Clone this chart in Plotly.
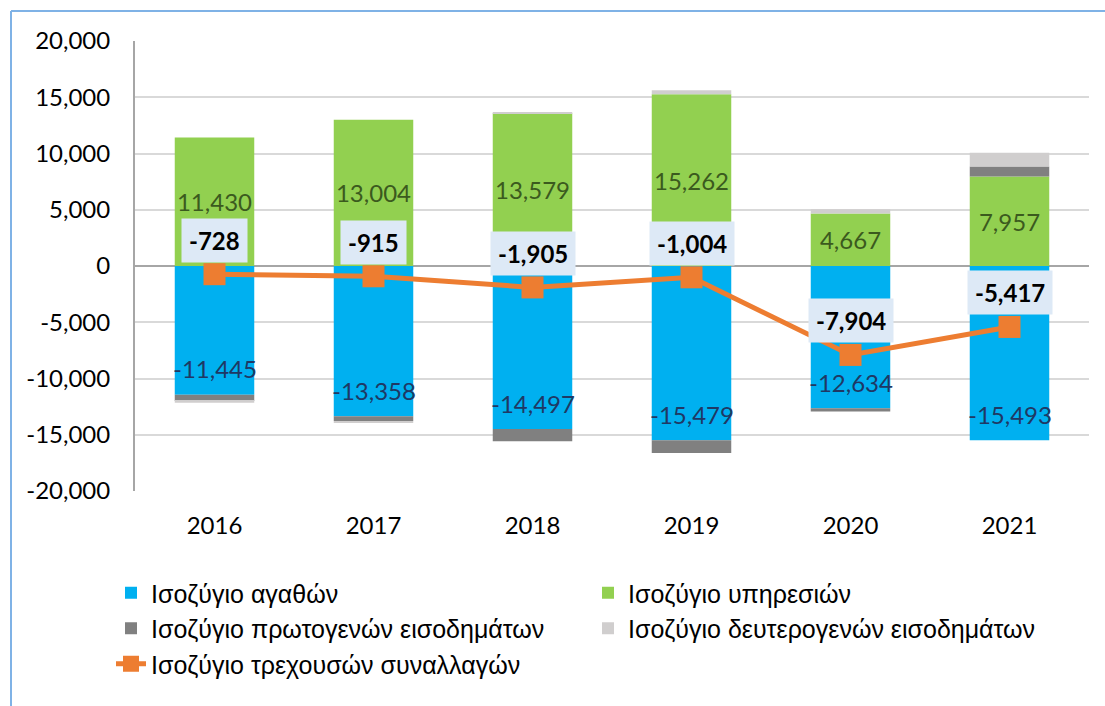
import plotly.graph_objects as go

years = ["2016", "2017", "2018", "2019", "2020", "2021"]
goods = [-11445, -13358, -14497, -15479, -12634, -15493]
services = [11430, 13004, 13579, 15262, 4667, 7957]
primary = [-550, -430, -1090, -1150, -310, 895]
secondary = [-163, -131, 103, 363, 373, 1224]
current = [-728, -915, -1905, -1004, -7904, -5417]

names = ["Ισοζύγιο αγαθών", "Ισοζύγιο υπηρεσιών",
         "Ισοζύγιο πρωτογενών εισοδημάτων", "Ισοζύγιο δευτερογενών εισοδημάτων",
         "Ισοζύγιο τρεχουσών συναλλαγών"]
yticks = [-20000, -15000, -10000, -5000, 0, 5000, 10000, 15000, 20000]

NUMFONT = "Lato, Open Sans, sans-serif"
LEGFONT = "Liberation Sans, Arial, sans-serif"

def fmt(v):
    return f"{v:,}"

fig = go.Figure()
fig.add_trace(go.Bar(x=years, y=goods, name=names[0], marker=dict(color="#00b0f0", line=dict(width=0))))
fig.add_trace(go.Bar(x=years, y=services, name=names[1], marker=dict(color="#92d050", line=dict(width=0)),
                     text=[fmt(v) for v in services], textposition="inside", insidetextanchor="middle",
                     textangle=0, constraintext="none",
                     textfont=dict(family=NUMFONT, size=24, color="#3b5a1e")))
fig.add_trace(go.Bar(x=years, y=primary, name=names[2], marker=dict(color="#808080", line=dict(width=0))))
fig.add_trace(go.Bar(x=years, y=secondary, name=names[3], marker=dict(color="#d0cece", line=dict(width=0))))
fig.add_trace(go.Scatter(x=years, y=current, name=names[4], mode="lines+markers",
                         line=dict(color="#ed7d31", width=5),
                         marker=dict(symbol="square", size=22, color="#ed7d31")))

annotations = []
for i, g in enumerate(goods):
    annotations.append(dict(x=i, y=g, xref="x", yref="y", text=fmt(g), showarrow=False, yshift=26,
                            font=dict(family=NUMFONT, size=24, color="#1f3864")))
for i, c in enumerate(current):
    annotations.append(dict(x=i, y=c, xref="x", yref="y", text="<b>" + fmt(c) + "</b>", showarrow=False,
                            yshift=34, font=dict(family=NUMFONT, size=24, color="#000000"),
                            bgcolor="#dde9f6", borderpad=7))

W, H = 1105, 706
L, R, T, B = 135, 16, 41, 215
pw, ph = W - L - R, H - T - B
def px_x(p):
    return (p - L) / pw
def px_y(p):
    return (H - B - p) / ph

shapes = [
    dict(type="line", xref="paper", yref="paper", x0=px_x(11), x1=px_x(1110), y0=px_y(11), y1=px_y(11),
         line=dict(color="#7fb2e6", width=2)),
    dict(type="line", xref="paper", yref="paper", x0=px_x(11), x1=px_x(11), y0=px_y(11), y1=px_y(710),
         line=dict(color="#7fb2e6", width=2)),
]

fig.update_layout(
    width=W, height=H,
    margin=dict(l=L, r=R, t=T, b=B, autoexpand=False),
    barmode="relative", bargap=0.5,
    plot_bgcolor="white", paper_bgcolor="white",
    annotations=annotations, shapes=shapes,
    showlegend=True,
    legend=dict(orientation="h", x=px_x(111), xanchor="left", y=px_y(570), yanchor="top",
                entrywidth=432, entrywidthmode="pixels", traceorder="normal",
                font=dict(family=LEGFONT, size=25, color="#000000"),
                tracegroupgap=0),
    xaxis=dict(type="category", categoryorder="array", categoryarray=years, range=[-0.5, len(years) - 0.5],
               showgrid=False, showline=False, ticks="", ticklabelstandoff=18,
               automargin=False, tickfont=dict(family=NUMFONT, size=24, color="#000000")),
    yaxis=dict(range=[-20000, 20000], tickvals=yticks, ticktext=[fmt(v) for v in yticks],
               showgrid=True, gridcolor="#d9d9d9", gridwidth=1.5,
               zeroline=True, zerolinecolor="#a6a6a6", zerolinewidth=2, automargin=False,
               showline=True, linecolor="#a6a6a6", linewidth=2, ticks="", ticklabelstandoff=18,
               tickfont=dict(family=NUMFONT, size=24, color="#000000")),
)

fig.write_html("out.html", config={"displayModeBar": False},
               post_script="document.body.style.margin='0';")
